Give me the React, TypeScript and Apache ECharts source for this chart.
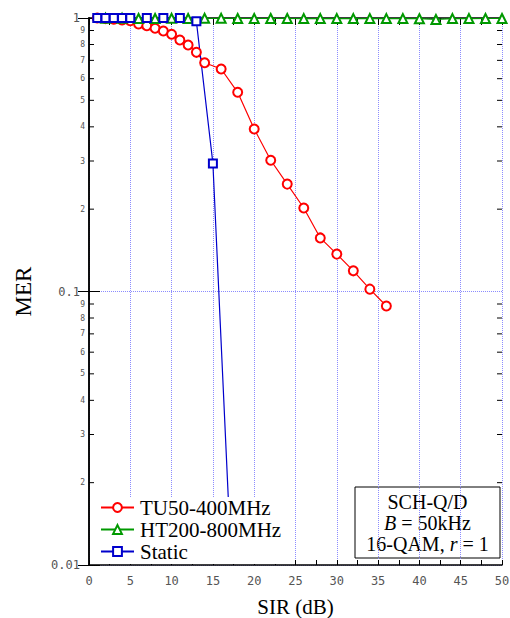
import React, { useEffect, useRef } from "react";
import * as echarts from "echarts";

// SIR (dB) values and MER values
const tuX = [1, 2, 3, 4, 5, 6, 7, 8, 9, 10, 11, 12, 13, 14, 16, 18, 20, 22, 24, 26, 28, 30, 32, 34, 36];
const tuY = [1.0, 0.995, 0.99, 0.983, 0.977, 0.951, 0.937, 0.917, 0.896, 0.872, 0.831, 0.797, 0.749, 0.686, 0.651, 0.535, 0.393, 0.302, 0.247, 0.202, 0.157, 0.137, 0.119, 0.102, 0.0885];

const htX = [2, 4, 6, 8, 10, 12, 14, 16, 18, 20, 22, 24, 26, 28, 30, 32, 34, 36, 38, 40, 42, 44, 46, 48, 50];
const htY = [0.998, 0.998, 0.996, 0.996, 0.997, 0.996, 0.997, 0.997, 0.996, 0.996, 0.996, 0.996, 0.995, 0.995, 0.995, 0.995, 0.995, 0.995, 0.995, 0.994, 0.988, 0.995, 0.995, 0.996, 0.996];

const stX = [1, 2, 3, 4, 5, 7, 9, 11, 13, 15, 17];
const stY = [1, 1, 1, 1, 1, 1, 1, 1, 0.972, 0.294, 0.0143];

const seriesNames = ["TU50-400MHz", "HT200-800MHz", "Static"];
const seriesColors = ["#ff0000", "#009900", "#0000cc"];

// minor tick mantissas for the log axis
const minorMantissas = [2, 3, 4, 5, 6, 7, 8, 9];
const minorDecades = [0.01, 0.1];

const zip = (xs: number[], ys: number[]) => xs.map((x, i) => [x, ys[i]]);

export default function App() {
  const ref = useRef<HTMLDivElement>(null);
  useEffect(() => {
    if (!ref.current) return;
    const chart = echarts.init(ref.current, null, { renderer: "svg" });
    const minorData: number[][] = [];
    minorDecades.forEach((d) => minorMantissas.forEach((m) => minorData.push([0, m * d, m])));

    const mono = "DejaVu Sans Mono";
    const serif = "Liberation Serif";
    const gridLine = { show: true, lineStyle: { color: "#8c8cff", type: [1, 1] as any, width: 1 } };

    chart.setOption({
      animation: false,
      backgroundColor: "#ffffff",
      grid: { left: 89, right: 8, top: 18, bottom: 53, containLabel: false, outerBoundsMode: "none" },
      legend: {
        orient: "vertical",
        left: 95,
        top: 497,
        padding: [0, 6, 2, 5],
        itemGap: 1,
        itemWidth: 33,
        itemHeight: 11,
        backgroundColor: "#ffffff",
        data: seriesNames,
        textStyle: { fontFamily: serif, fontSize: 21, color: "#000", lineHeight: 21, padding: [0, 0, 0, 1] },
      },
      xAxis: [
        {
          type: "value",
          min: 0,
          max: 50,
          interval: 5,
          position: "bottom",
          axisLine: { show: true, lineStyle: { color: "#000", width: 1.5 } },
          axisTick: { show: true, inside: true, length: 5, lineStyle: { color: "#000" } },
          minorTick: { show: true, splitNumber: 2, length: 5, lineStyle: { color: "#000" } },
          axisLabel: { fontFamily: mono, fontSize: 12, color: "#555", margin: 10 },
          splitLine: gridLine,
          name: "SIR (dB)",
          nameLocation: "middle",
          nameGap: 31,
          nameTextStyle: { fontFamily: serif, fontSize: 21, color: "#000" },
        },
        {
          type: "value",
          min: 0,
          max: 50,
          interval: 5,
          position: "top",
          axisLine: { show: true, lineStyle: { color: "#000", width: 1.5 } },
          axisTick: { show: true, inside: true, length: 7, lineStyle: { color: "#000" } },
          minorTick: { show: true, splitNumber: 2, length: 7, lineStyle: { color: "#000" } },
          axisLabel: { show: false },
          splitLine: { show: false },
        },
      ],
      yAxis: [
        {
          type: "log",
          logBase: 10,
          min: 0.01,
          max: 1,
          position: "left",
          axisLine: { show: true, lineStyle: { color: "#000", width: 1.5 } },
          axisTick: { show: true, inside: true, length: 11, lineStyle: { color: "#000" } },
          axisLabel: {
            fontFamily: mono,
            fontSize: 12,
            color: "#555",
            margin: 9,
            formatter: (v: number) => (v >= 1 ? "1" : v >= 0.1 ? "0.1" : "0.01"),
          },
          splitLine: gridLine,
          name: "MER",
          nameLocation: "middle",
          nameGap: 54,
          nameTextStyle: { fontFamily: serif, fontSize: 23, color: "#000" },
        },
        {
          type: "log",
          logBase: 10,
          min: 0.01,
          max: 1,
          position: "right",
          axisLine: { show: true, lineStyle: { color: "#000", width: 1.5 } },
          axisTick: { show: true, inside: true, length: 11, lineStyle: { color: "#000" } },
          axisLabel: { show: false },
          splitLine: { show: false },
        },
      ],
      series: [
        {
          type: "custom",
          silent: true,
          clip: false,
          z: 1,
          xAxisIndex: 0,
          yAxisIndex: 0,
          data: minorData,
          renderItem: (params: any, api: any) => {
            const v = api.value(1);
            const m = api.value(2);
            const pl = api.coord([0, v]);
            const pr = api.coord([50, v]);
            return {
              type: "group",
              children: [
                { type: "line", shape: { x1: pl[0], y1: pl[1], x2: pl[0] + 5, y2: pl[1] }, style: { stroke: "#000", lineWidth: 1 } },
                { type: "line", shape: { x1: pr[0] - 5, y1: pr[1], x2: pr[0], y2: pr[1] }, style: { stroke: "#000", lineWidth: 1 } },
                {
                  type: "text",
                  x: pl[0] - 4,
                  y: pl[1],
                  style: { text: String(m), fontFamily: mono, fontSize: 8, fill: "#555", align: "right", verticalAlign: "middle" },
                },
              ],
            };
          },
        },
        {
          name: seriesNames[0],
          type: "line",
          data: zip(tuX, tuY),
          symbol: "emptyCircle",
          symbolSize: 9,
          color: seriesColors[0],
          lineStyle: { width: 1.2, color: seriesColors[0] },
          itemStyle: { color: seriesColors[0], borderWidth: 1.2 },
          z: 3,
        },
        {
          name: seriesNames[1],
          type: "line",
          data: zip(htX, htY),
          symbol: "emptyTriangle",
          symbolSize: 9,
          color: seriesColors[1],
          lineStyle: { width: 1.2, color: seriesColors[1] },
          itemStyle: { color: seriesColors[1], borderWidth: 1.2 },
          z: 3,
        },
        {
          name: seriesNames[2],
          type: "line",
          data: zip(stX, stY),
          symbol: "emptyRect",
          symbolSize: 8,
          color: seriesColors[2],
          lineStyle: { width: 1.2, color: seriesColors[2] },
          itemStyle: { color: seriesColors[2], borderWidth: 1.2 },
          z: 3,
        },
      ],
      graphic: [
        {
          type: "group",
          z: 100,
          children: [
            {
              type: "rect",
              shape: { x: 355, y: 487, width: 145, height: 71 },
              style: { fill: "#fff", stroke: "#000", lineWidth: 1 },
            },
            {
              type: "text",
              x: 427.5,
              y: 491,
              style: {
                text: "{a|SCH-Q/D}\n{i|B}{a| = 50kHz}\n{a|16-QAM, }{i|r}{a| = 1}",
                align: "center",
                verticalAlign: "top",
                rich: {
                  a: { fontFamily: serif, fontSize: 20, lineHeight: 21, fill: "#000" },
                  i: { fontFamily: serif, fontSize: 20, lineHeight: 21, fontStyle: "italic", fill: "#000" },
                },
              },
            },
          ],
        },
      ],
    });
    return () => chart.dispose();
  }, []);
  return <div ref={ref} style={{ position: "fixed", left: 0, top: 0, width: 510, height: 618 }} />;
}
